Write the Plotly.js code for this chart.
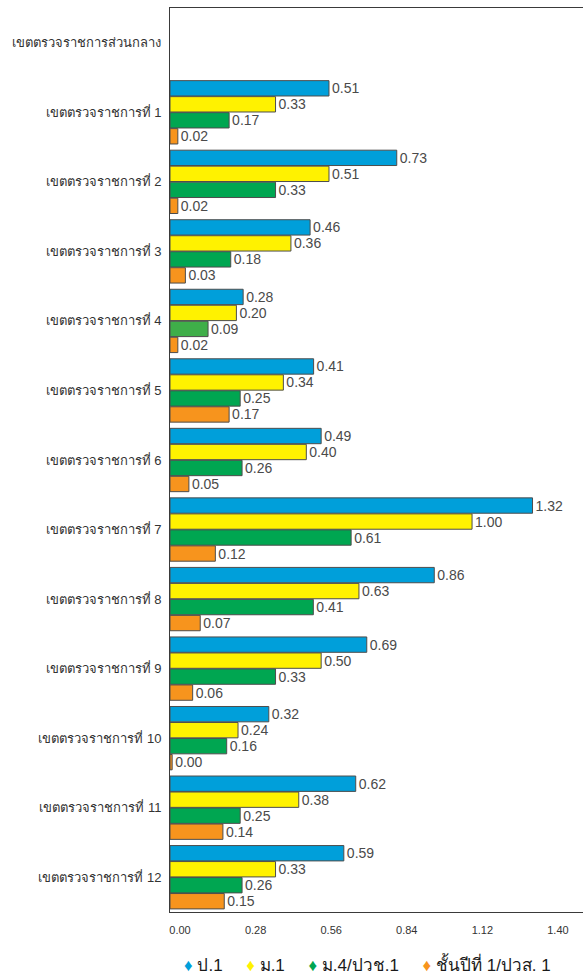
<!DOCTYPE html>
<html>
<head>
<meta charset="utf-8">
<script src="https://cdn.plot.ly/plotly-3.0.1.min.js"></script>
<style>
html,body{margin:0;padding:0;background:#fff;overflow:hidden;}
#chart{width:583px;height:977px;}
</style>
</head>
<body>
<div id="chart"></div>
<script>
// Categories (top to bottom)
const regions = [
  "เขตตรวจราชการส่วนกลาง",
  "เขตตรวจราชการที่ 1", "เขตตรวจราชการที่ 2", "เขตตรวจราชการที่ 3",
  "เขตตรวจราชการที่ 4", "เขตตรวจราชการที่ 5", "เขตตรวจราชการที่ 6",
  "เขตตรวจราชการที่ 7", "เขตตรวจราชการที่ 8", "เขตตรวจราชการที่ 9",
  "เขตตรวจราชการที่ 10", "เขตตรวจราชการที่ 11", "เขตตรวจราชการที่ 12"
];
const seriesNames = ["ป.1", "ม.1", "ม.4/ปวช.1", "ชั้นปีที่ 1/ปวส. 1"];

// Bar lengths
const p1 = [null, 0.589, 0.840, 0.519, 0.271, 0.532, 0.560, 1.343, 0.979, 0.729, 0.366, 0.688, 0.644];
const m1 = [null, 0.391, 0.589, 0.448, 0.246, 0.420, 0.505, 1.119, 0.700, 0.560, 0.252, 0.477, 0.391];
const m4 = [null, 0.219, 0.391, 0.225, 0.141, 0.260, 0.267, 0.671, 0.531, 0.391, 0.210, 0.260, 0.267];
const y1 = [null, 0.029, 0.029, 0.057, 0.029, 0.219, 0.070, 0.168, 0.112, 0.084, 0.008, 0.196, 0.201];

// Data labels printed beside the bars
const p1Labels = ["", "0.51", "0.73", "0.46", "0.28", "0.41", "0.49", "1.32", "0.86", "0.69", "0.32", "0.62", "0.59"];
const m1Labels = ["", "0.33", "0.51", "0.36", "0.20", "0.34", "0.40", "1.00", "0.63", "0.50", "0.24", "0.38", "0.33"];
const m4Labels = ["", "0.17", "0.33", "0.18", "0.09", "0.25", "0.26", "0.61", "0.41", "0.33", "0.16", "0.25", "0.26"];
const y1Labels = ["", "0.02", "0.02", "0.03", "0.02", "0.17", "0.05", "0.12", "0.07", "0.06", "0.00", "0.14", "0.15"];

// x-axis ticks
const xTicks = [0, 0.28, 0.56, 0.84, 1.12, 1.40];
const xTickText = ["0.00", "0.28", "0.56", "0.84", "1.12", "1.40"];

const colors = ["#009FDA", "#FFF200", "#00A651", "#F7941D"];
const greenPerPoint = regions.map((r, i) => i === 4 ? "#3FAE49" : colors[2]);

const FONT = "Liberation Sans, Arial, sans-serif";

function barTrace(vals, labels, name, color) {
  return {
    type: "bar", orientation: "h",
    x: vals, y: regions, name: name,
    text: labels, textposition: "outside", cliponaxis: false,
    constraintext: "none",
    textfont: {family: FONT, size: 14, color: "#4a4a4a"},
    marker: {color: color, line: {color: "#4d4d4d", width: 1}},
    showlegend: false, hoverinfo: "x+y+name"
  };
}

const data = [
  barTrace(p1, p1Labels, seriesNames[0], colors[0]),
  barTrace(m1, m1Labels, seriesNames[1], colors[1]),
  barTrace(m4, m4Labels, seriesNames[2], greenPerPoint),
  barTrace(y1, y1Labels, seriesNames[3], colors[3])
];

const legendText = seriesNames.map((n, i) =>
  '<span style="color:' + colors[i] + '">♦</span> ' + n).join('     ');

const layout = {
  width: 583, height: 977,
  margin: {l: 170, r: 0, t: 8, b: 65},
  paper_bgcolor: "#ffffff", plot_bgcolor: "#ffffff",
  barmode: "group", bargap: 0.08, bargroupgap: 0.04,
  font: {family: FONT, color: "#333333"},
  xaxis: {
    range: [0, 1.53], tickvals: xTicks, ticktext: xTickText,
    showgrid: false, zeroline: false,
    showline: true, mirror: true, linecolor: "#3a3a3a", linewidth: 1,
    ticks: "", ticklabelshift: 10, ticklabelstandoff: 8,
    tickfont: {family: FONT, size: 11, color: "#333333"}
  },
  yaxis: {
    autorange: "reversed", type: "category",
    showgrid: false, zeroline: false,
    showline: true, linecolor: "#3a3a3a", linewidth: 1,
    ticks: "", ticklabelstandoff: 5,
    tickfont: {family: FONT, size: 13, color: "#333333"}
  },
  annotations: [{
    xref: "paper", yref: "paper", x: 0.478, y: -0.058,
    xanchor: "center", yanchor: "middle", showarrow: false,
    text: legendText,
    font: {family: FONT, size: 17, color: "#1a1a1a"}
  }]
};

Plotly.newPlot("chart", data, layout, {displayModeBar: false, staticPlot: true});
</script>
</body>
</html>
